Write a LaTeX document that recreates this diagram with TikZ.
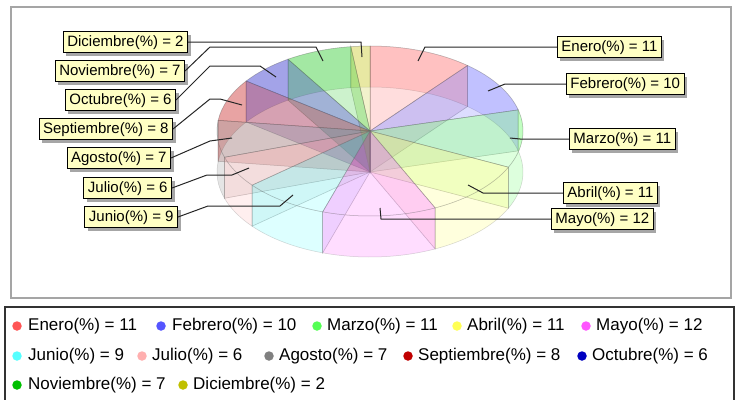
\documentclass[tikz,border=0pt]{standalone}
\usepackage{fontspec}
\setmainfont{Liberation Sans}
\usetikzlibrary{shadows}
\definecolor{c1}{RGB}{255,85,85}
\definecolor{c2}{RGB}{85,85,255}
\definecolor{c3}{RGB}{85,255,85}
\definecolor{c4}{RGB}{255,255,85}
\definecolor{c5}{RGB}{255,85,255}
\definecolor{c6}{RGB}{85,255,255}
\definecolor{c7}{RGB}{255,175,175}
\definecolor{c8}{RGB}{128,128,128}
\definecolor{c9}{RGB}{192,0,0}
\definecolor{c10}{RGB}{0,0,192}
\definecolor{c11}{RGB}{0,192,0}
\definecolor{c12}{RGB}{192,192,0}
\definecolor{lblfill}{RGB}{255,255,196}
\definecolor{framegray}{RGB}{165,165,165}
\begin{document}
\begin{tikzpicture}[x=1pt,y=-1pt,
  lbl/.style={draw=black, line width=0.9pt, fill=lblfill, inner xsep=4pt, inner ysep=0pt,
    minimum height=21pt, text height=11pt, text depth=3pt, font=\fontsize{15}{18}\selectfont,
    drop shadow={shadow xshift=3pt, shadow yshift=-3pt, fill=black, opacity=0.35}},
  leader/.style={draw=black!85, line width=1pt},
  legtext/.style={anchor=west, inner sep=0pt, font=\fontsize{17}{20}\selectfont, text height=12pt, text depth=3.5pt},
  legdot/.style={circle, inner sep=0pt, minimum size=9.5pt},
  pieface/.style={fill opacity=0.2, draw=black!55, draw opacity=0.3, line width=0.5pt},
  piewall/.style={fill opacity=0.11, draw=black!55, draw opacity=0.25, line width=0.5pt}
]
\fill[white] (0,0) rectangle (738,399);
\useasboundingbox (0,0) rectangle (738,399);

% plot frame
\draw[framegray, line width=1.5pt] (11,7) rectangle (731,298);

% 3D pie
\begin{scope}[shift={(370,131)}]
\foreach \a/\b/\c in {-90/-50.4/c1, -50.4/-14.4/c2, -14.4/25.2/c3, 25.2/64.8/c4, 64.8/108/c5, 108/140.4/c6, 140.4/162/c7, 162/187.2/c8, 187.2/216/c9, 216/237.6/c10, 237.6/262.8/c11, 262.8/270/c12}{
  \filldraw[piewall, fill=\c] (0,0) -- (\a:153 and 85) -- ++(0,41) -- (0,41) -- cycle;
  \filldraw[piewall, fill=\c] (0,0) -- (\b:153 and 85) -- ++(0,41) -- (0,41) -- cycle;
}
\foreach \a/\b/\c in {-90/-50.4/c1, -50.4/-14.4/c2, -14.4/25.2/c3, 25.2/64.8/c4, 64.8/108/c5, 108/140.4/c6, 140.4/162/c7, 162/187.2/c8, 187.2/216/c9, 216/237.6/c10, 237.6/262.8/c11, 262.8/270/c12}{
  \filldraw[pieface, fill=\c] (\a:153 and 85) arc[start angle=\a, end angle=\b, x radius=153, y radius=85]
    -- ++(0,41) arc[start angle=\b, end angle=\a, x radius=153, y radius=85] -- cycle;
}
\foreach \a/\b/\c in {-90/-50.4/c1, -50.4/-14.4/c2, -14.4/25.2/c3, 25.2/64.8/c4, 64.8/108/c5, 108/140.4/c6, 140.4/162/c7, 162/187.2/c8, 187.2/216/c9, 216/237.6/c10, 237.6/262.8/c11, 262.8/270/c12}{
  \filldraw[pieface, fill=\c] (0,0) -- (\a:153 and 85) arc[start angle=\a, end angle=\b, x radius=153, y radius=85] -- cycle;
}
\end{scope}

% leader end points
\coordinate (pene) at (418,61);
\coordinate (pfeb) at (488,91);
\coordinate (pmar) at (510,138);
\coordinate (pabr) at (468,185);
\coordinate (pmay) at (380,208);
\coordinate (pjun) at (293,195);
\coordinate (pjul) at (249,168);
\coordinate (pago) at (232,138);
\coordinate (psep) at (242,105);
\coordinate (poct) at (276,77);
\coordinate (pnov) at (323,61);
\coordinate (pdic) at (362,57);

% labels
\node[lbl, anchor=east] (dic) at (188,42) {Diciembre(\%) = 2};
\node[lbl, anchor=east] (nov) at (185,71) {Noviembre(\%) = 7};
\node[lbl, anchor=east] (oct) at (176,100) {Octubre(\%) = 6};
\node[lbl, anchor=east] (sep) at (173,129) {Septiembre(\%) = 8};
\node[lbl, anchor=east] (ago) at (171,158) {Agosto(\%) = 7};
\node[lbl, anchor=east] (jul) at (172,188) {Julio(\%) = 6};
\node[lbl, anchor=east] (jun) at (178,217) {Junio(\%) = 9};
\node[lbl, anchor=west] (ene) at (557,47) {Enero(\%) = 11};
\node[lbl, anchor=west] (feb) at (566,84) {Febrero(\%) = 10};
\node[lbl, anchor=west] (mar) at (569,139) {Marzo(\%) = 11};
\node[lbl, anchor=west] (abr) at (563,193) {Abril(\%) = 11};
\node[lbl, anchor=west] (may) at (551,219) {Mayo(\%) = 12};

% leaders
\draw[leader] (dic.east) -- (361,42) -- (pdic);
\draw[leader] (nov.east) -- (210,47) -- (316,47) -- (pnov);
\draw[leader] (oct.east) -- (210,66) -- (260,66) -- (poct);
\draw[leader] (sep.east) -- (210,99) -- (220,99) -- (psep);
\draw[leader] (ago.east) -- (210,141) -- (pago);
\draw[leader] (jul.east) -- (207,175) -- (232,175) -- (pjul);
\draw[leader] (jun.east) -- (208,206) -- (280,206) -- (pjun);
\draw[leader] (ene.west) -- (425,47) -- (pene);
\draw[leader] (feb.west) -- (505,84) -- (pfeb);
\draw[leader] (mar.west) -- (520,139) -- (pmar);
\draw[leader] (abr.west) -- (483,193) -- (pabr);
\draw[leader] (may.west) -- (381,219) -- (pmay);

% legend
\draw[black!80, line width=1.2pt] (5,405) -- (5,307) -- (734,307) -- (734,405);
\node[legdot, fill=c1] (ld1) at (17,326) {};
\node[legtext] (lt1) at (28,326) {Enero(\%) = 11};
\node[legdot, fill=c2] (ld2) at (161,326) {};
\node[legtext] (lt2) at (172,326) {Febrero(\%) = 10};
\node[legdot, fill=c3] (ld3) at (317,326) {};
\node[legtext] (lt3) at (327,326) {Marzo(\%) = 11};
\node[legdot, fill=c4] (ld4) at (457,326) {};
\node[legtext] (lt4) at (467,326) {Abril(\%) = 11};
\node[legdot, fill=c5] (ld5) at (586,326) {};
\node[legtext] (lt5) at (596,326) {Mayo(\%) = 12};
\node[legdot, fill=c6] (ld6) at (17,356) {};
\node[legtext] (lt6) at (28,356) {Junio(\%) = 9};
\node[legdot, fill=c7] (ld7) at (142,356) {};
\node[legtext] (lt7) at (152,356) {Julio(\%) = 6};
\node[legdot, fill=c8] (ld8) at (269,356) {};
\node[legtext] (lt8) at (279,356) {Agosto(\%) = 7};
\node[legdot, fill=c9] (ld9) at (408,356) {};
\node[legtext] (lt9) at (418,356) {Septiembre(\%) = 8};
\node[legdot, fill=c10] (ld10) at (582,356) {};
\node[legtext] (lt10) at (592,356) {Octubre(\%) = 6};
\node[legdot, fill=c11] (ld11) at (17,385) {};
\node[legtext] (lt11) at (28,385) {Noviembre(\%) = 7};
\node[legdot, fill=c12] (ld12) at (183,385) {};
\node[legtext] (lt12) at (193,385) {Diciembre(\%) = 2};
\end{tikzpicture}
\end{document}
